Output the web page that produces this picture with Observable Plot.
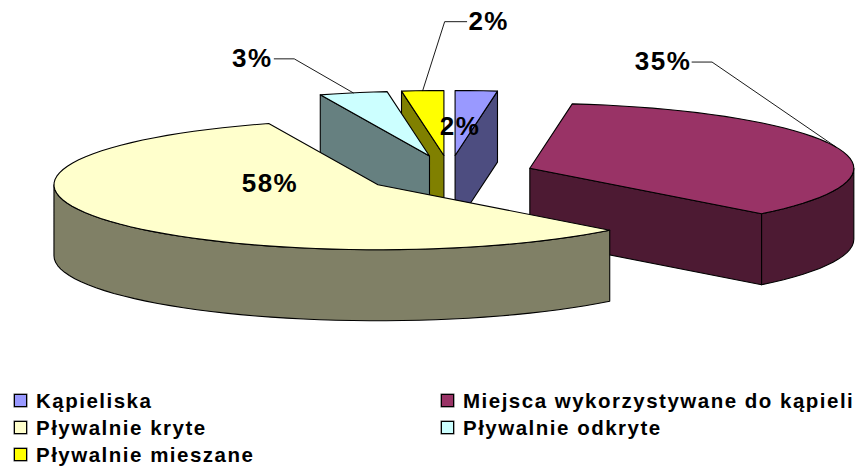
<!DOCTYPE html>
<html lang="pl">
<head>
<meta charset="utf-8">
<script src="https://cdn.jsdelivr.net/npm/d3@7"></script>
<script src="https://cdn.jsdelivr.net/npm/@observablehq/plot@0.6"></script>
<style>
  html, body { margin: 0; padding: 0; background: #fff; overflow: hidden; }
  body { width: 855px; height: 466px; position: relative; font-family: "Liberation Sans", Arial, sans-serif; }
  #chart svg { display: block; }
  #legend { position: absolute; left: 0; top: 387px; width: 855px; height: 79px; display: grid;
    grid-template-columns: 427px 428px; grid-auto-rows: 27px; font-weight: bold; font-size: 20.5px; letter-spacing: 1.5px; color: #000; }
  .item { display: flex; align-items: center; padding-left: 14px; white-space: nowrap; }
  .sw { width: 11px; height: 11px; border: 1px solid #000; box-shadow: 0 0 0 0.5px #555; margin-right: 9px; flex: none; }
</style>
</head>
<body>
<div id="chart"></div>
<div id="legend"></div>
<script>
// Data (first slice starts at 12 o'clock, clockwise)
const categories = ["Kąpieliska", "Miejsca wykorzystywane do kąpieli", "Pływalnie kryte", "Pływalnie odkryte", "Pływalnie mieszane"];
const values = [2.1, 35.4, 57.5, 3.4, 2.1];
const topColors = ["#9999ff", "#993366", "#ffffcc", "#ccffff", "#ffff00"];
const sideColors = ["#4d4d80", "#4d1a33", "#808066", "#668080", "#808000"];

// Layout of the projected pie
const W = 855, H = 384;
const cx = 449, cy = 174, rx = 324, ry = 65, depth = 71, explodeX = 85, explodeY = 19;
// label placement relative to a slice's rim midpoint (leader) or its apex (inside)
const labelLayout = [
  {inside: [5, -29]},
  {label: [-173, -85], elbow: [-124, -85]},
  {inside: [-108, -1]},
  {label: [-101, -34], elbow: [-59, -34]},
  {label: [66, -69], elbow: [22, -69]}
];

const total = d3.sum(values);
const rad = d => d * Math.PI / 180;
let running = 0;
const slices = values.map((v, i) => {
  const a = running / total * 360;
  running += v;
  const b = running / total * 360;
  const m = (a + b) / 2;
  const ox = cx + explodeX * Math.sin(rad(m));
  const oy = cy - explodeY * Math.cos(rad(m));
  const rim = t => ({x: ox + rx * Math.sin(rad(t)), y: oy - ry * Math.cos(rad(t))});
  return {i, v, a, b, m, ox, oy, rim};
});
const down = p => ({x: p.x, y: p.y + depth});
const arc = (s, from, to) => {
  const n = Math.max(2, Math.ceil((to - from) / 3));
  return d3.range(n + 1).map(k => s.rim(from + (to - from) * k / n));
};
const face = (pts, fill) => Plot.line([...pts, pts[0]], {x: "x", y: "y", fill, stroke: "#000", strokeWidth: 1.1, strokeLinejoin: "round"});

const marks = [];
[...slices].sort((p, q) => -Math.cos(rad(p.m)) + Math.cos(rad(q.m))).forEach(s => {
  const apex = {x: s.ox, y: s.oy}, side = sideColors[s.i];
  const wallAt = t => { const e = s.rim(t); marks.push(face([apex, e, down(e), down(apex)], side)); };
  if (Math.sin(rad(s.a)) < -1e-6) wallAt(s.a);
  if (Math.sin(rad(s.b)) > 1e-6) wallAt(s.b);
  const f = Math.max(s.a, 90), t = Math.min(s.b, 270);
  if (t > f) {
    const r = arc(s, f, t);
    marks.push(face([...r, ...r.map(down).reverse()], side));
  }
  marks.push(face([apex, ...arc(s, s.a, s.b)], topColors[s.i]));
});

const textOpts = {x: "x", y: "y", text: "t", fontSize: 26, fontWeight: "bold", fontFamily: "Liberation Sans", fill: "#000", textAnchor: "middle", lineAnchor: "middle"};
slices.forEach(s => {
  const L = labelLayout[s.i], t = Math.round(s.v) + "%";
  if (L.inside) {
    marks.push(Plot.text([{x: s.ox + L.inside[0], y: s.oy + L.inside[1], t}], textOpts));
  } else {
    const e = s.rim(s.m);
    const elbow = {x: e.x + L.elbow[0], y: e.y + L.elbow[1]};
    const end = {x: elbow.x + (L.label[0] < L.elbow[0] ? -20 : 22), y: elbow.y};
    marks.push(Plot.line([e, elbow, end], {x: "x", y: "y", stroke: "#000", strokeWidth: 0.9}));
    marks.push(Plot.text([{x: e.x + L.label[0], y: e.y + L.label[1], t}], textOpts));
  }
});

const chart = Plot.plot({
  width: W, height: H, margin: 0,
  x: {axis: null, domain: [0, W], range: [0, W]},
  y: {axis: null, domain: [0, H], range: [0, H]},
  style: {background: "#fff", letterSpacing: "1.5px"},
  marks
});
document.getElementById("chart").append(chart);

const legend = document.getElementById("legend");
categories.forEach((c, i) => {
  const it = document.createElement("div");
  it.className = "item";
  const sw = document.createElement("span");
  sw.className = "sw";
  sw.style.background = topColors[i];
  it.append(sw, document.createTextNode(c));
  legend.append(it);
});
</script>
</body>
</html>
